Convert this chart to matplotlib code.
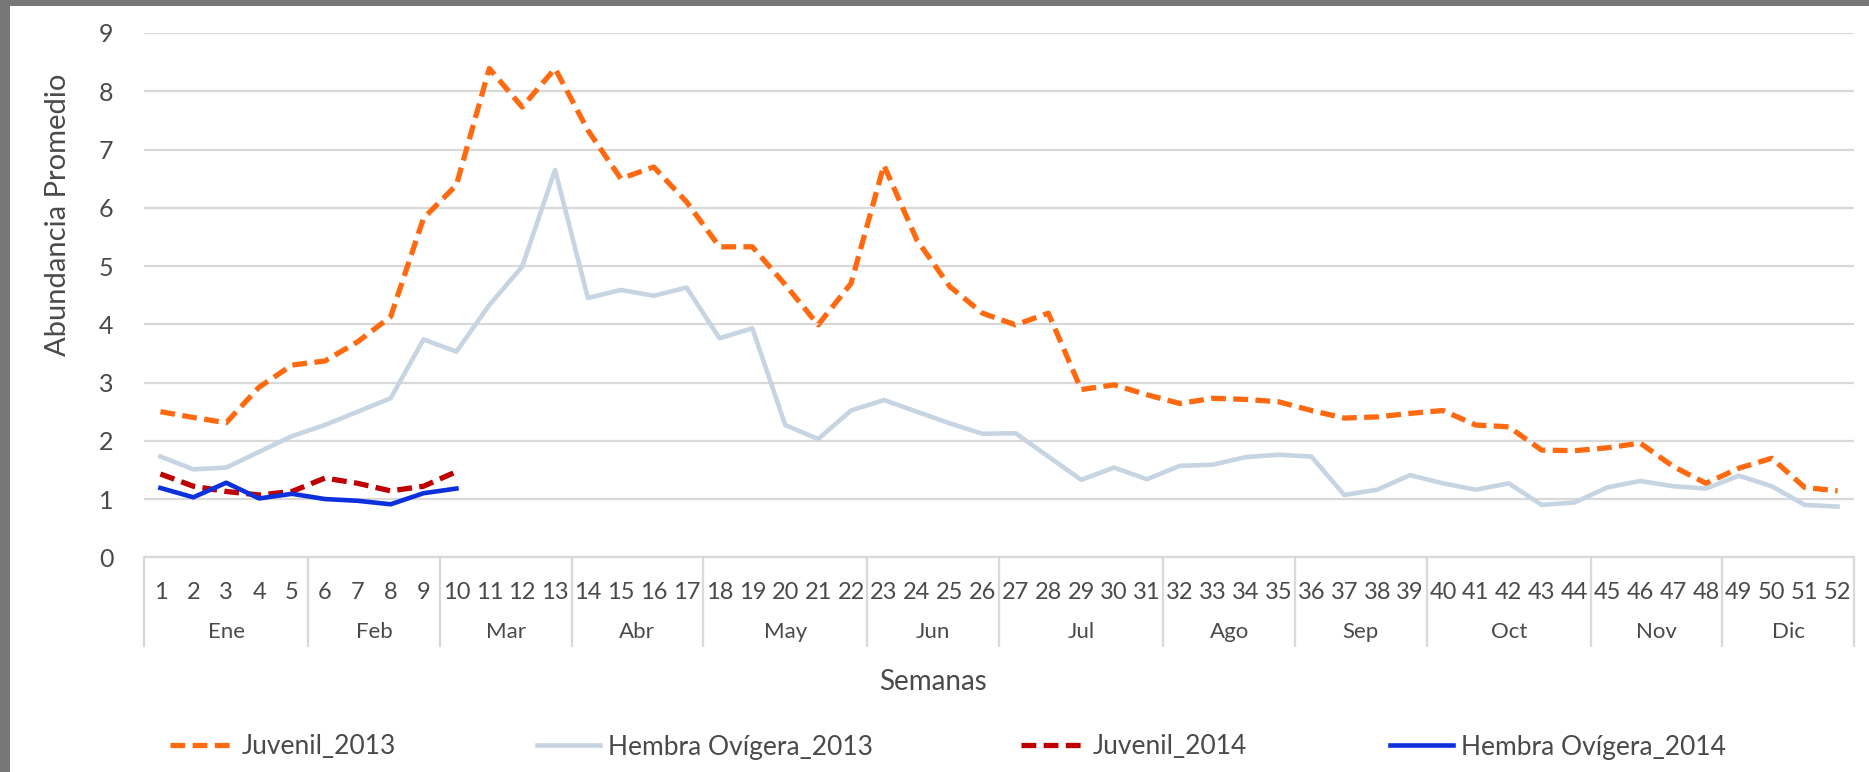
import matplotlib
matplotlib.use("Agg")
import matplotlib.pyplot as plt
import numpy as np

plt.rcParams['font.family'] = ['Lato', 'DejaVu Sans']

weeks = list(range(1, 53))
months = ['Ene', 'Feb', 'Mar', 'Abr', 'May', 'Jun', 'Jul', 'Ago', 'Sep', 'Oct', 'Nov', 'Dic']
weeks_per_month = [5, 4, 4, 4, 5, 4, 5, 4, 4, 5, 4, 4]

juvenil_2013 = [2.50, 2.40, 2.31, 2.92, 3.30, 3.37, 3.70, 4.13, 5.82, 6.39,
                8.39, 7.73, 8.39, 7.33, 6.50, 6.70, 6.10, 5.33, 5.33, 4.68,
                3.99, 4.70, 6.73, 5.45, 4.65, 4.19, 3.99, 4.19, 2.88, 2.96,
                2.79, 2.64, 2.73, 2.71, 2.67, 2.52, 2.39, 2.41, 2.47, 2.52,
                2.27, 2.24, 1.84, 1.83, 1.88, 1.96, 1.56, 1.27, 1.53, 1.70,
                1.20, 1.14]
hembra_2013 = [1.73, 1.51, 1.54, 1.81, 2.08, 2.27, 2.50, 2.73, 3.74, 3.53,
               4.33, 4.99, 6.65, 4.45, 4.59, 4.49, 4.63, 3.76, 3.93, 2.27,
               2.03, 2.52, 2.70, 2.50, 2.30, 2.12, 2.13, 1.73, 1.33, 1.54,
               1.34, 1.57, 1.59, 1.72, 1.76, 1.73, 1.07, 1.16, 1.41, 1.27,
               1.16, 1.27, 0.90, 0.94, 1.20, 1.31, 1.22, 1.18, 1.40, 1.22,
               0.90, 0.87]
juvenil_2014 = [1.43, 1.22, 1.13, 1.07, 1.13, 1.36, 1.27, 1.14, 1.22, 1.47]
hembra_2014 = [1.19, 1.03, 1.28, 1.01, 1.09, 1.00, 0.97, 0.91, 1.10, 1.18]

W, H = 1869, 772
fig = plt.figure(figsize=(W / 100, H / 100), dpi=100)
ax = fig.add_axes([144 / W, (H - 557.3) / H, (1854 - 144) / W, (557.3 - 33) / H])

text_color = '#4A4A4A'
grid_color = '#D9D9D9'

l1, = ax.plot(weeks, juvenil_2013, color='#FF6A10', lw=3.8, ls=(0, (2.8, 1.4)), label='Juvenil_2013')
l2, = ax.plot(weeks, hembra_2013, color='#C6D5E1', lw=3.3, label='Hembra Ovígera_2013')
l3, = ax.plot(weeks[:len(juvenil_2014)], juvenil_2014, color='#C00000', lw=3.8, ls=(0, (2.8, 1.4)), label='Juvenil_2014')
l4, = ax.plot(weeks[:len(hembra_2014)], hembra_2014, color='#0B30DC', lw=3.3, label='Hembra Ovígera_2014')

ax.set_xlim(0.5, 52.5)
ax.set_ylim(0, 9)
ax.set_yticks(range(0, 10))
ax.yaxis.grid(True, color=grid_color, lw=1.6)
ax.set_axisbelow(True)
for s in ['left', 'right', 'top']:
    ax.spines[s].set_visible(False)
ax.spines['bottom'].set_color(grid_color)
ax.spines['bottom'].set_linewidth(1.6)
ax.tick_params(axis='y', length=0, pad=22, labelsize=18, labelcolor=text_color)
ax.set_xticks(weeks)
ax.set_xticklabels([str(w) for w in weeks])
ax.tick_params(axis='x', length=0, pad=18, labelsize=17, labelcolor=text_color)

# month groups
bounds = np.concatenate([[0], np.cumsum(weeks_per_month)]) + 0.5
ax.vlines(bounds, -0.171, 0, transform=ax.get_xaxis_transform(), color=grid_color, lw=1.6, clip_on=False)
for m, a, b in zip(months, bounds[:-1], bounds[1:]):
    ax.text((a + b) / 2, -0.1425, m, transform=ax.get_xaxis_transform(), ha='center', va='center',
            fontsize=16, color=text_color)

ax.text((58 - 144) / (1854 - 144), (557.3 - 215) / 524.3, 'Abundancia Promedio', transform=ax.transAxes,
        rotation=90, ha='center', va='center', fontsize=21, color=text_color)
ax.text((933 - 144) / (1854 - 144), (557.3 - 682) / 524.3, 'Semanas', transform=ax.transAxes,
        ha='center', va='center', fontsize=20, color=text_color)

# legend, one entry at a time
for line, x0 in zip([l1, l2, l3, l4], [170, 537, 1021, 1390]):
    fig.legend(handles=[line], loc='center left', bbox_to_anchor=(x0 / W, (H - 747) / H),
               frameon=False, borderpad=0, borderaxespad=0, handlelength=2.4, handletextpad=0.3,
               fontsize=19, labelcolor=text_color)

# grey frame on left and top
fig.add_artist(plt.Rectangle((0, 0), 10 / W, 1, transform=fig.transFigure, color='#777777', lw=0))
fig.add_artist(plt.Rectangle((0, 1 - 6 / H), 1, 6 / H, transform=fig.transFigure, color='#777777', lw=0))

fig.savefig('out.png', dpi=100)
